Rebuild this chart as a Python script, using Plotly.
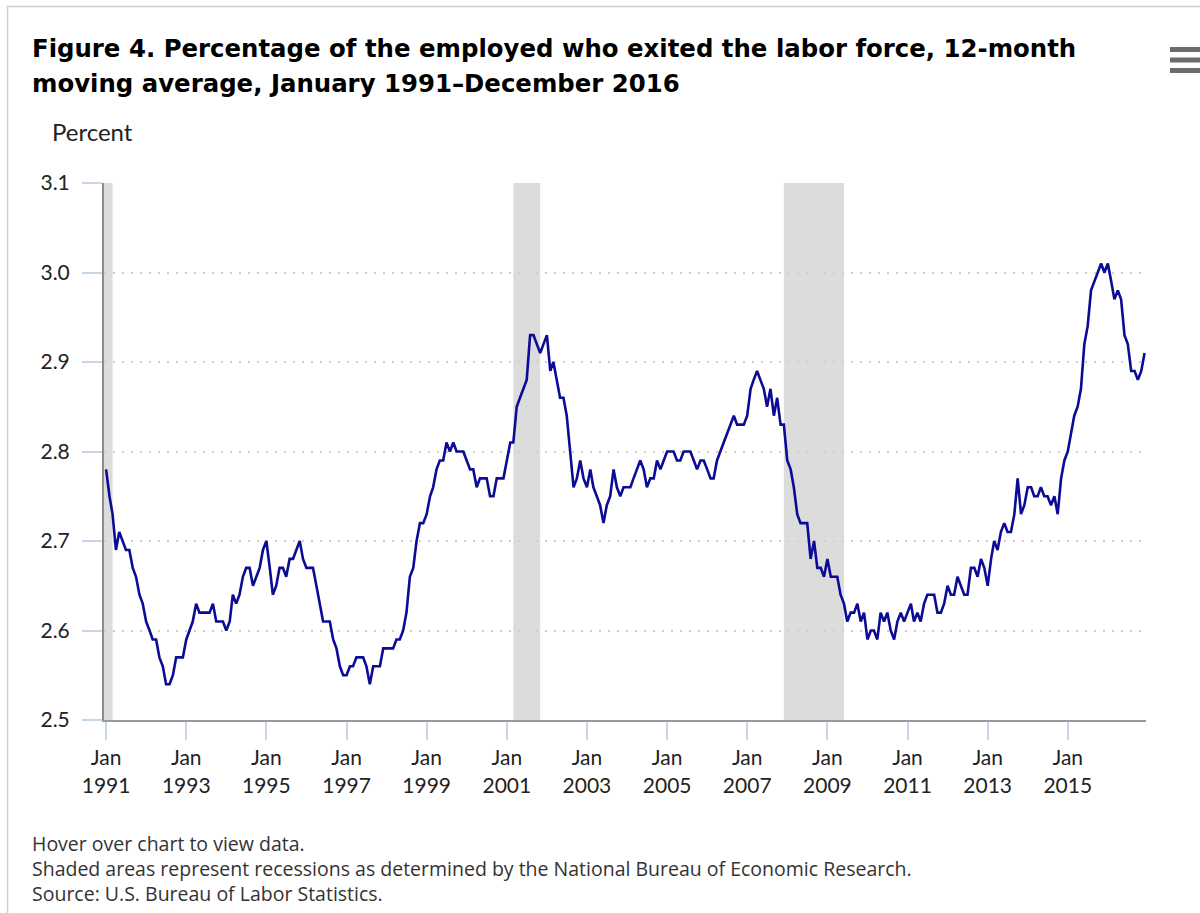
import plotly.graph_objects as go
import pandas as pd

# ---------------- data ----------------
years = list(range(1991, 2017))
values_by_year = {
    1991: [2.78, 2.75, 2.73, 2.69, 2.71, 2.70, 2.69, 2.69, 2.67, 2.66, 2.64, 2.63],
    1992: [2.61, 2.60, 2.59, 2.59, 2.57, 2.56, 2.54, 2.54, 2.55, 2.57, 2.57, 2.57],
    1993: [2.59, 2.60, 2.61, 2.63, 2.62, 2.62, 2.62, 2.62, 2.63, 2.61, 2.61, 2.61],
    1994: [2.60, 2.61, 2.64, 2.63, 2.64, 2.66, 2.67, 2.67, 2.65, 2.66, 2.67, 2.69],
    1995: [2.70, 2.67, 2.64, 2.65, 2.67, 2.67, 2.66, 2.68, 2.68, 2.69, 2.70, 2.68],
    1996: [2.67, 2.67, 2.67, 2.65, 2.63, 2.61, 2.61, 2.61, 2.59, 2.58, 2.56, 2.55],
    1997: [2.55, 2.56, 2.56, 2.57, 2.57, 2.57, 2.56, 2.54, 2.56, 2.56, 2.56, 2.58],
    1998: [2.58, 2.58, 2.58, 2.59, 2.59, 2.60, 2.62, 2.66, 2.67, 2.70, 2.72, 2.72],
    1999: [2.73, 2.75, 2.76, 2.78, 2.79, 2.79, 2.81, 2.80, 2.81, 2.80, 2.80, 2.80],
    2000: [2.79, 2.78, 2.78, 2.76, 2.77, 2.77, 2.77, 2.75, 2.75, 2.77, 2.77, 2.77],
    2001: [2.79, 2.81, 2.81, 2.85, 2.86, 2.87, 2.88, 2.93, 2.93, 2.92, 2.91, 2.92],
    2002: [2.93, 2.89, 2.90, 2.88, 2.86, 2.86, 2.84, 2.80, 2.76, 2.77, 2.79, 2.77],
    2003: [2.76, 2.78, 2.76, 2.75, 2.74, 2.72, 2.74, 2.75, 2.78, 2.76, 2.75, 2.76],
    2004: [2.76, 2.76, 2.77, 2.78, 2.79, 2.78, 2.76, 2.77, 2.77, 2.79, 2.78, 2.79],
    2005: [2.80, 2.80, 2.80, 2.79, 2.79, 2.80, 2.80, 2.80, 2.79, 2.78, 2.79, 2.79],
    2006: [2.78, 2.77, 2.77, 2.79, 2.80, 2.81, 2.82, 2.83, 2.84, 2.83, 2.83, 2.83],
    2007: [2.84, 2.87, 2.88, 2.89, 2.88, 2.87, 2.85, 2.87, 2.84, 2.86, 2.83, 2.83],
    2008: [2.79, 2.78, 2.76, 2.73, 2.72, 2.72, 2.72, 2.68, 2.70, 2.67, 2.67, 2.66],
    2009: [2.68, 2.66, 2.66, 2.66, 2.64, 2.63, 2.61, 2.62, 2.62, 2.63, 2.61, 2.62],
    2010: [2.59, 2.60, 2.60, 2.59, 2.62, 2.61, 2.62, 2.60, 2.59, 2.61, 2.62, 2.61],
    2011: [2.62, 2.63, 2.61, 2.62, 2.61, 2.63, 2.64, 2.64, 2.64, 2.62, 2.62, 2.63],
    2012: [2.65, 2.64, 2.64, 2.66, 2.65, 2.64, 2.64, 2.67, 2.67, 2.66, 2.68, 2.67],
    2013: [2.65, 2.68, 2.70, 2.69, 2.71, 2.72, 2.71, 2.71, 2.73, 2.77, 2.73, 2.74],
    2014: [2.76, 2.76, 2.75, 2.75, 2.76, 2.75, 2.75, 2.74, 2.75, 2.73, 2.77, 2.79],
    2015: [2.80, 2.82, 2.84, 2.85, 2.87, 2.92, 2.94, 2.98, 2.99, 3.00, 3.01, 3.00],
    2016: [3.01, 2.99, 2.97, 2.98, 2.97, 2.93, 2.92, 2.89, 2.89, 2.88, 2.89, 2.91],
}
recession_starts = ["1990-07-01", "2001-03-01", "2007-12-01"]
recession_ends = ["1991-03-01", "2001-11-01", "2009-06-01"]
tick_dates = ["%d-01-01" % y for y in range(1991, 2017, 2)]
tick_labels = ["Jan<br>%d" % y for y in range(1991, 2017, 2)]
y_ticks = [2.5, 2.6, 2.7, 2.8, 2.9, 3.0, 3.1]
y_tick_labels = ["2.5", "2.6", "2.7", "2.8", "2.9", "3.0", "3.1"]

dates = pd.date_range("1991-01-01", "2016-12-01", freq="MS")
values = [v for y in years for v in values_by_year[y]]

# ---------------- layout helpers ----------------
W, H = 1200, 913
L, R, T, B = 104, 54, 183, 193
PW, PH = W - L - R, H - T - B


def px(xp):
    return (xp - L) / PW


def py(yp):
    return (H - B - yp) / PH


fig = go.Figure()
fig.add_trace(go.Scatter(
    x=dates, y=values, mode="lines",
    line=dict(color="#0b0b96", width=2.6),
    hovertemplate="%{x|%b %Y}: %{y:.2f}<extra></extra>",
    showlegend=False,
))

shapes = []
for s, e in zip(recession_starts, recession_ends):
    shapes.append(dict(type="rect", xref="x", yref="paper", x0=s, x1=e, y0=0, y1=1,
                       fillcolor="#dcdcdc", line=dict(width=0), layer="below"))
# hamburger menu icon
for yy in (49.5, 60, 70.5):
    shapes.append(dict(type="line", xref="paper", yref="paper",
                       x0=px(1170), x1=px(1210), y0=py(yy), y1=py(yy),
                       line=dict(color="#6b6b6b", width=5)))
# outer border
shapes.append(dict(type="line", xref="paper", yref="paper", x0=px(7), x1=px(1210),
                   y0=py(6.5), y1=py(6.5), line=dict(color="#cfcfcf", width=1.5)))
shapes.append(dict(type="line", xref="paper", yref="paper", x0=px(7.5), x1=px(7.5),
                   y0=py(6), y1=py(920), line=dict(color="#cfcfcf", width=1.5)))

annotations = [
    dict(text="<b>Figure 4. Percentage of the employed who exited the labor force, 12-month</b>",
         xref="paper", yref="paper", x=px(30), y=py(48), xanchor="left", yanchor="middle",
         showarrow=False, font=dict(family="DejaVu Sans", size=24.4, color="#000")),
    dict(text="<b>moving average, January 1991\u2013December 2016</b>",
         xref="paper", yref="paper", x=px(30), y=py(84), xanchor="left", yanchor="middle",
         showarrow=False, font=dict(family="DejaVu Sans", size=24.4, color="#000")),
    dict(text="Percent", xref="paper", yref="paper", x=px(50), y=py(131),
         xanchor="left", yanchor="middle", showarrow=False,
         font=dict(family="Lato", size=24, color="#222")),
]
foot = ["Hover over chart to view data.",
        "Shaded areas represent recessions as determined by the National Bureau of Economic Research.",
        "Source: U.S. Bureau of Labor Statistics."]
for i, t in enumerate(foot):
    annotations.append(dict(text=t, xref="paper", yref="paper", x=px(30), y=py(843 + 25 * i),
                            xanchor="left", yanchor="middle", showarrow=False,
                            font=dict(family="Open Sans", size=19.5, color="#333")))

fig.update_layout(
    width=W, height=H,
    margin=dict(l=L, r=R, t=T, b=B, pad=0),
    paper_bgcolor="white", plot_bgcolor="white",
    shapes=shapes, annotations=annotations,
    hovermode="x",
    xaxis=dict(
        type="date", range=["1990-12-13", "2016-12-14"],
        tickmode="array", tickvals=tick_dates, ticktext=tick_labels,
        showgrid=False, zeroline=False,
        showline=True, linecolor="#9a9a9a", linewidth=2,
        ticks="outside", ticklen=18, tickcolor="#c8d6e5", tickwidth=2,
        tickfont=dict(family="Lato", size=21, color="#222"),
    ),
    yaxis=dict(
        range=[2.5, 3.1], tickmode="array", tickvals=y_ticks, ticktext=y_tick_labels,
        showgrid=True, gridcolor="#cfcfcf", gridwidth=2, griddash="2px,7px",
        zeroline=False,
        showline=True, linecolor="#8c8c8c", linewidth=2,
        ticks="outside", ticklen=20, tickcolor="#c8d6e5", tickwidth=2,
        ticklabelstandoff=8,
        tickfont=dict(family="Lato", size=21, color="#222"),
    ),
)

fig.write_html(
    "out.html",
    config={"displayModeBar": False},
    post_script="document.body.style.margin='0px';document.body.style.overflow='hidden';",
)
